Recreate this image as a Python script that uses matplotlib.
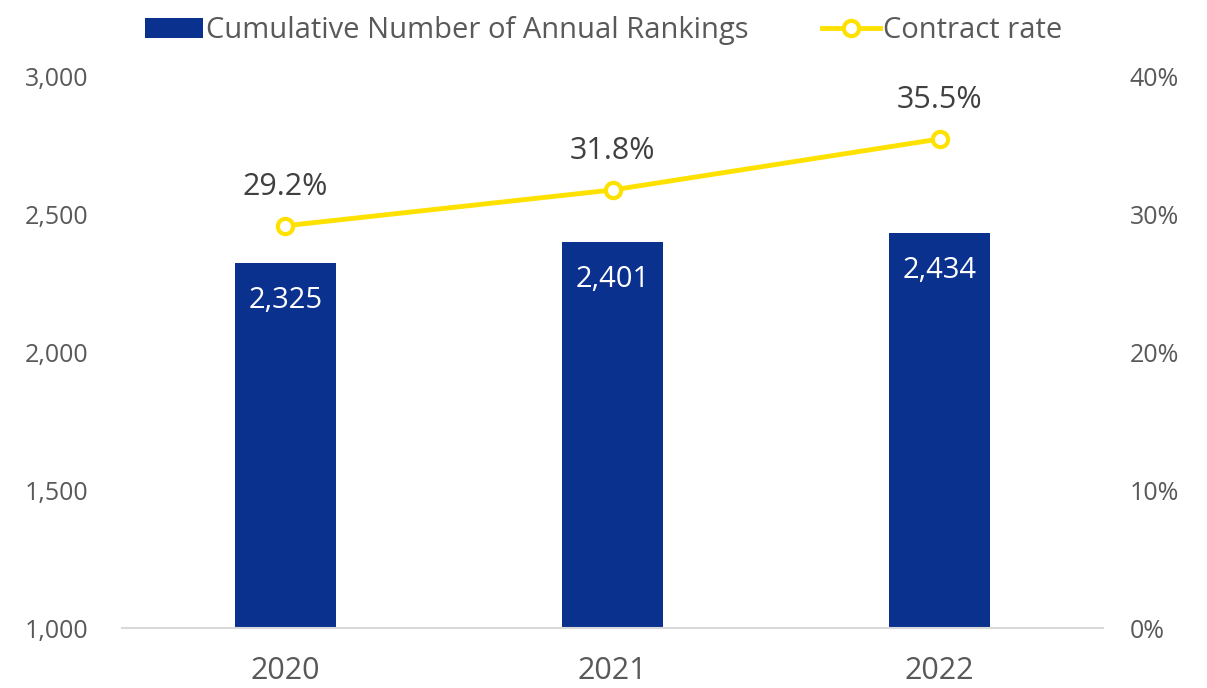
import matplotlib.pyplot as plt
from matplotlib.ticker import FuncFormatter

years = ["2020", "2021", "2022"]
rankings = [2325, 2401, 2434]
contract_rate = [29.2, 31.8, 35.5]

bar_color = "#0B318F"
line_color = "#FFE100"
text_color = "#595959"

plt.rcParams["font.family"] = ["Open Sans", "DejaVu Sans"]

fig = plt.figure(figsize=(12.07, 6.88), dpi=100)
ax = fig.add_axes([0.101, 0.0872, 0.813, 0.8009])
ax2 = ax.twinx()

x = range(len(years))
bars = ax.bar(x, rankings, width=0.31, color=bar_color, zorder=2,
              label="Cumulative Number of Annual Rankings")
ax.set_xlim(-0.5, 2.5)
ax.set_ylim(1000, 3000)
ax.set_yticks([1000, 1500, 2000, 2500, 3000])
ax.yaxis.set_major_formatter(FuncFormatter(lambda v, p: f"{int(v):,}"))
ax.set_xticks(list(x))
ax.set_xticklabels(years)

for xi, v in zip(x, rankings):
    ax.annotate(f"{v:,}", (xi, v), xytext=(0, -27), textcoords="offset points",
                ha="center", va="center", color="white", fontsize=21)

line, = ax2.plot(x, contract_rate, color=line_color, lw=3.5, marker="o",
                 markersize=11, markerfacecolor="white", markeredgecolor=line_color,
                 markeredgewidth=3, zorder=3, label="Contract rate")
ax2.set_ylim(0, 40)
ax2.set_yticks([0, 10, 20, 30, 40])
ax2.yaxis.set_major_formatter(FuncFormatter(lambda v, p: f"{int(v)}%"))

for xi, v in zip(x, contract_rate):
    ax2.annotate(f"{v:.1f}%", (xi, v), xytext=(0, 28), textcoords="offset points",
                 ha="center", va="center", color="#404040", fontsize=22)

for a in (ax, ax2):
    for s in ("top", "left", "right", "bottom"):
        a.spines[s].set_visible(False)
    a.tick_params(length=0, labelsize=18, colors=text_color)
ax.spines["bottom"].set_visible(True)
ax.spines["bottom"].set_color("#D9D9D9")
ax.spines["bottom"].set_linewidth(1.5)
ax.tick_params(axis="y", pad=24)
ax.tick_params(axis="x", pad=20, labelsize=22)
ax2.tick_params(axis="y", pad=19)

fig.legend(handles=[bars, line], loc="upper center", bbox_to_anchor=(0.5, 1.015),
           ncol=2, frameon=False, fontsize=21, labelcolor=text_color,
           handlelength=2.0, handletextpad=0.1, columnspacing=2.5)

fig.savefig("out.png", dpi=100)
